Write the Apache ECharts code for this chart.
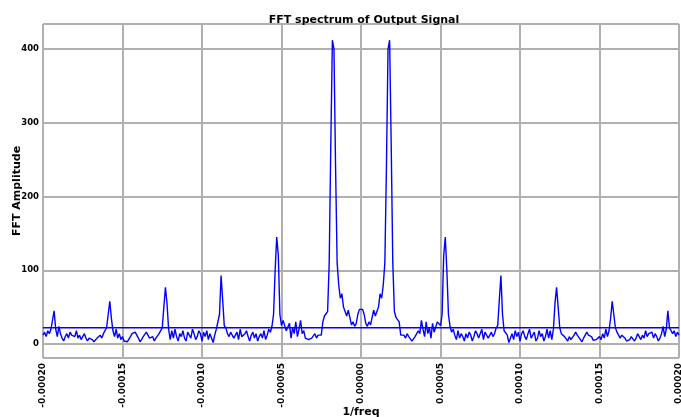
<!DOCTYPE html>
<html>
<head>
<meta charset="utf-8">
<script src="https://cdn.jsdelivr.net/npm/echarts@6/dist/echarts.min.js"></script>
<style>
  html, body { margin: 0; padding: 0; background: #fff; }
  #main { width: 681px; height: 417px; }
</style>
</head>
<body>
<div id="main"></div>
<script>
// FFT grid: 1/freq from -0.0002 to 0.0002, one bin per 1e-6
var binStart = -0.0002;
var binStep = 0.000001;

// amplitude per bin
var amplitude = [
  // -200 .. -101
  12, 16, 10, 18, 14, 20, 22, 45, 20, 10,
  24, 14, 8, 4, 10, 14, 8, 16, 12, 14,
  10, 18, 8, 12, 6, 10, 14, 8, 4, 8,
  10, 6, 3, 4, 8, 10, 12, 8, 14, 16,
  22, 40, 58, 35, 18, 10, 20, 8, 14, 6,
  10, 4, 6, 3, 5, 10, 14, 12, 16, 12,
  8, 3, 6, 10, 12, 16, 12, 8, 6, 10,
  4, 8, 10, 14, 14, 22, 50, 77, 55, 20,
  6, 18, 8, 20, 10, 4, 14, 10, 18, 8,
  4, 16, 12, 8, 20, 14, 6, 10, 18, 14,
  // -100 .. -1
  4, 16, 10, 18, 6, 14, 8, 2, 12, 20,
  18, 40, 93, 60, 25, 22, 14, 10, 16, 12,
  8, 12, 16, 6, 20, 10, 8, 14, 18, 10,
  4, 12, 16, 8, 14, 4, 10, 14, 8, 18,
  6, 12, 20, 16, 24, 40, 100, 145, 120, 40,
  25, 32, 30, 18, 16, 28, 8, 22, 14, 30,
  10, 20, 32, 14, 18, 8, 10, 6, 4, 8,
  10, 14, 8, 12, 10, 12, 30, 38, 36, 44,
  110, 270, 412, 400, 240, 110, 80, 62, 68, 50,
  44, 38, 46, 36, 26, 30, 24, 28, 40, 47,
  // 0
  47,
  // 1 .. 100
  47, 40, 28, 24, 30, 26, 36, 46, 38, 44,
  50, 68, 62, 80, 110, 240, 400, 412, 270, 110,
  44, 36, 38, 30, 12, 10, 12, 8, 14, 10,
  8, 4, 6, 10, 8, 18, 14, 32, 20, 10,
  30, 14, 22, 8, 28, 16, 18, 30, 32, 25,
  40, 120, 145, 100, 40, 24, 16, 20, 12, 6,
  18, 8, 14, 10, 4, 14, 8, 16, 12, 4,
  10, 18, 14, 8, 10, 20, 6, 16, 12, 8,
  12, 16, 10, 14, 22, 25, 60, 93, 40, 18,
  20, 12, 2, 8, 14, 6, 18, 10, 16, 4,
  // 101 .. 200
  14, 18, 10, 6, 14, 20, 8, 12, 16, 4,
  8, 18, 10, 14, 4, 10, 20, 8, 18, 6,
  20, 55, 77, 50, 22, 14, 14, 10, 8, 4,
  10, 6, 8, 12, 16, 12, 10, 6, 3, 8,
  12, 16, 12, 14, 10, 5, 3, 6, 4, 10,
  6, 14, 8, 20, 10, 18, 35, 58, 40, 22,
  16, 14, 8, 12, 10, 8, 4, 3, 6, 10,
  8, 4, 8, 14, 10, 6, 12, 8, 18, 10,
  14, 12, 16, 8, 14, 10, 4, 8, 14, 24,
  10, 20, 45, 22, 20, 14, 18, 10, 16, 12
];

// horizontal reference level
var levelX = [-0.0002, 0.0002];
var levelY = [22, 22];

var spectrum = [];
for (var i = 0; i < amplitude.length; i++) {
  spectrum.push([binStart + i * binStep, amplitude[i]]);
}
var level = [];
for (var j = 0; j < levelX.length; j++) {
  level.push([levelX[j], levelY[j]]);
}

var chart = echarts.init(document.getElementById('main'), null, { renderer: 'canvas' });

var font = 'DejaVu Sans';
var gridColor = '#b0b0b0';

var option = {
  backgroundColor: '#ffffff',
  animation: false,
  title: {
    text: 'FFT spectrum of Output Signal',
    left: 359,
    top: 10,
    textAlign: 'center',
    textStyle: { fontFamily: font, fontWeight: 'bold', fontSize: 11, color: '#000' }
  },
  grid: {
    left: 43, right: 2, top: 24, bottom: 59,
    outerBoundsMode: 'none',
    containLabel: false,
    show: true,
    borderColor: '#d8d8d8',
    borderWidth: 1
  },
  xAxis: {
    type: 'value',
    min: -0.0002,
    max: 0.0002,
    interval: 0.00005,
    name: '1/freq',
    nameLocation: 'middle',
    nameGap: 49,
    nameMoveOverlap: false,
    nameTextStyle: { fontFamily: font, fontWeight: 'bold', fontSize: 11, color: '#000' },
    axisLine: { show: false },
    axisTick: { show: false },
    axisLabel: {
      rotate: 90,
      margin: 5,
      fontFamily: font, fontWeight: 'bold', fontSize: 9, color: '#000',
      formatter: function (v) { return v.toFixed(5); }
    },
    splitLine: { show: true, lineStyle: { color: gridColor, width: 2 } }
  },
  yAxis: {
    type: 'value',
    min: -19,
    max: 434,
    splitNumber: 5,
    name: 'FFT Amplitude',
    nameLocation: 'middle',
    nameGap: 20,
    nameMoveOverlap: false,
    nameTextStyle: { fontFamily: font, fontWeight: 'bold', fontSize: 11, color: '#000' },
    axisLine: { show: false },
    axisTick: { show: false },
    axisLabel: {
      showMinLabel: false,
      showMaxLabel: false,
      margin: 4,
      fontFamily: font, fontWeight: 'bold', fontSize: 8.5, color: '#000',
      formatter: function (v) { return (v % 100 === 0) ? String(v) : ''; }
    },
    splitLine: { show: true, lineStyle: { color: gridColor, width: 2 } }
  },
  series: [
    {
      type: 'line',
      data: spectrum,
      showSymbol: false,
      lineStyle: { color: '#0000ff', width: 1.4 },
      z: 3
    },
    {
      type: 'line',
      data: level,
      showSymbol: false,
      lineStyle: { color: '#0000ff', width: 1.4 },
      z: 3
    }
  ]
};

chart.setOption(option);
</script>
</body>
</html>
